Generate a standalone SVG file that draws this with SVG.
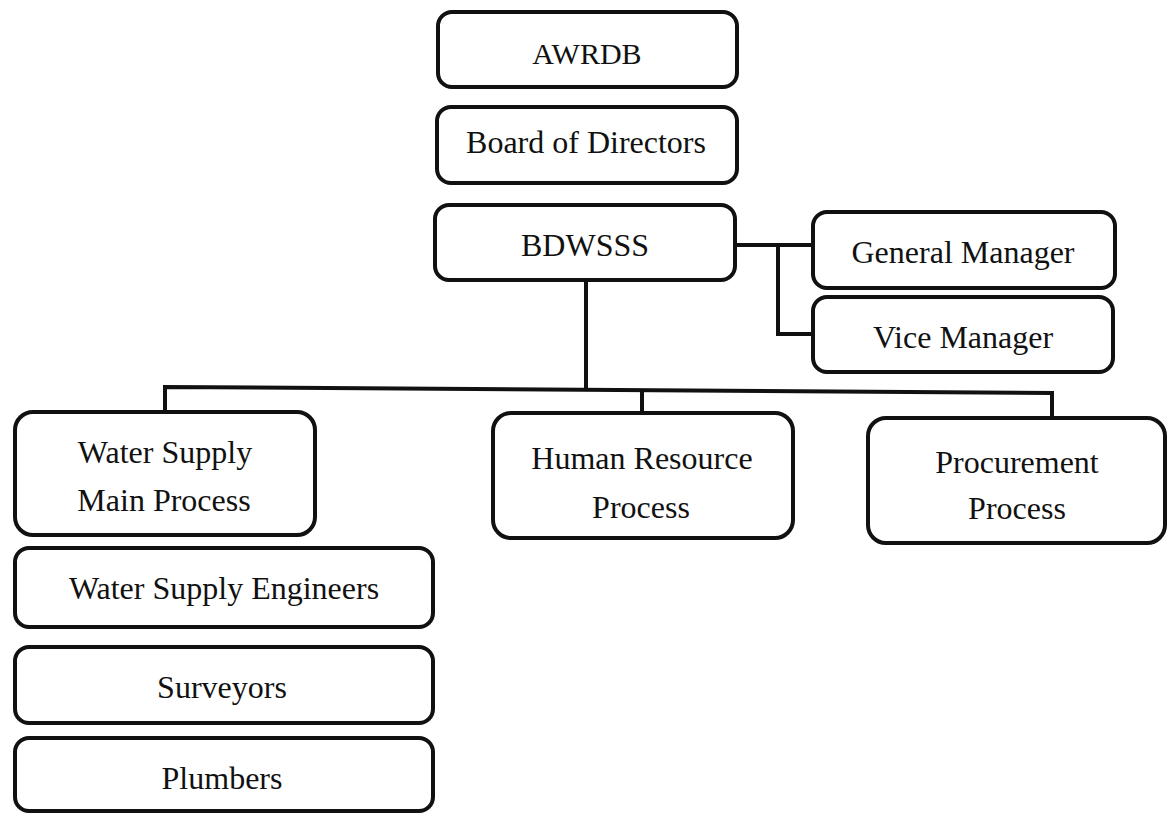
<svg xmlns="http://www.w3.org/2000/svg" width="1167" height="813" viewBox="0 0 1167 813">
<style>
.box{fill:#fff;stroke:#111;stroke-width:4}
.t{font-family:"Liberation Serif","Times New Roman",serif;font-size:32px;fill:#111;text-anchor:middle}
.con{fill:none;stroke:#111;stroke-width:4}
</style>
<rect width="1167" height="813" fill="#fff"/>
<g id="connectors">
<path class="con" d="M586 280 V390"/>
<path class="con" d="M165 412 V387 L1052 393 V418"/>
<path class="con" d="M642 390 V413"/>
<path class="con" d="M735 245 H813"/>
<path class="con" d="M778 245 V334 H813"/>
</g>
<g id="awrdb"><rect class="box" x="438" y="12" width="299" height="75" rx="14"/><text class="t" x="587" y="64" style="font-size:30px">AWRDB</text></g>
<g id="board"><rect class="box" x="437" y="107" width="300" height="76" rx="14"/><text class="t" x="586" y="153">Board of Directors</text></g>
<g id="bdwsss"><rect class="box" x="435" y="205" width="300" height="75" rx="14"/><text class="t" x="585" y="256">BDWSSS</text></g>
<g id="gm"><rect class="box" x="813" y="212" width="302" height="76" rx="14"/><text class="t" x="963" y="263">General Manager</text></g>
<g id="vm"><rect class="box" x="813" y="297" width="300" height="75" rx="14"/><text class="t" x="963" y="348">Vice Manager</text></g>
<g id="wsmp"><rect class="box" x="15" y="412" width="300" height="123" rx="18"/><text class="t" x="165" y="463">Water Supply</text><text class="t" x="164" y="511">Main Process</text></g>
<g id="hr"><rect class="box" x="493" y="413" width="300" height="125" rx="18"/><text class="t" x="642" y="469">Human Resource</text><text class="t" x="641" y="518">Process</text></g>
<g id="proc"><rect class="box" x="868" y="418" width="297" height="125" rx="18"/><text class="t" x="1017" y="473">Procurement</text><text class="t" x="1017" y="519">Process</text></g>
<g id="wse"><rect class="box" x="15" y="548" width="418" height="79" rx="14"/><text class="t" x="224" y="599">Water Supply Engineers</text></g>
<g id="surv"><rect class="box" x="15" y="647" width="418" height="76" rx="14"/><text class="t" x="222" y="698">Surveyors</text></g>
<g id="plumb"><rect class="box" x="15" y="738" width="418" height="73" rx="14"/><text class="t" x="222" y="789">Plumbers</text></g>
</svg>
